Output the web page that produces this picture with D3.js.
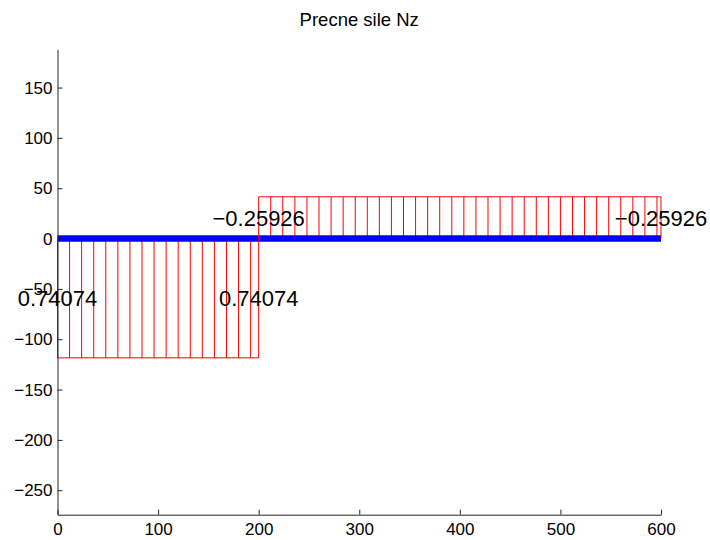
<!DOCTYPE html>
<html>
<head>
<meta charset="utf-8">
<script src="https://cdn.jsdelivr.net/npm/d3@7"></script>
<style>
  body { margin: 0; background: #fff; }
  svg { font-family: "Liberation Sans", Arial, Helvetica, sans-serif; }
</style>
</head>
<body>
<div id="chart"></div>
<script>
// beam segments and shear force values (Nz)
var segStart = [0, 200];
var segEnd = [200, 600];
var nzValues = [0.74074, -0.25926];     // printed next to the diagram
var drawnHeights = [-118.5, 41.5];      // ordinate of the diagram as plotted
var beamX = [0, 600];
var xTicks = [0, 100, 200, 300, 400, 500, 600];
var yTicks = [-250, -200, -150, -100, -50, 0, 50, 100, 150];
var hatchStep = 12;

var W = 710, H = 540;

var svg = d3.select("#chart")
  .append("svg")
    .attr("width", W)
    .attr("height", H);

svg.append("rect").attr("width", W).attr("height", H).attr("fill", "#fff");

var x = d3.scaleLinear().domain([0, 600]).range([57.5, 661]);
var y = d3.scaleLinear().domain([-274.3, 188]).range([514.7, 49.3]);

// hatch lines inside each segment
segStart.forEach(function(s, i) {
  var e = segEnd[i];
  var h = drawnHeights[i];
  var xs = d3.range(s + hatchStep, e, hatchStep);
  svg.append("g")
    .selectAll("line")
    .data(xs)
    .enter().append("line")
      .attr("x1", function(d) { return x(d); })
      .attr("x2", function(d) { return x(d); })
      .attr("y1", y(0))
      .attr("y2", y(h))
      .attr("stroke", "#ff0000")
      .attr("stroke-width", 1);
});

// the beam
svg.append("line")
  .attr("x1", x(beamX[0]))
  .attr("x2", x(beamX[1]))
  .attr("y1", y(0))
  .attr("y2", y(0))
  .attr("stroke", "#0000ff")
  .attr("stroke-width", 6.5);

// outline of each segment
segStart.forEach(function(s, i) {
  var e = segEnd[i];
  var h = drawnHeights[i];
  svg.append("path")
    .attr("d", d3.line()([[x(s), y(0)], [x(s), y(h)], [x(e), y(h)], [x(e), y(0)]]))
    .attr("fill", "none")
    .attr("stroke", "#ff0000")
    .attr("stroke-width", 1);
});

// axes
var xAxis = svg.append("g")
  .attr("transform", "translate(0," + y.range()[0] + ")")
  .call(d3.axisBottom(x).tickValues(xTicks).tickSize(-5).tickSizeOuter(0).tickPadding(8));

var yAxis = svg.append("g")
  .attr("transform", "translate(" + x.range()[0] + ",0)")
  .call(d3.axisLeft(y).tickValues(yTicks).tickSize(-5).tickSizeOuter(0).tickPadding(5));

[xAxis, yAxis].forEach(function(a) {
  a.select(".domain").attr("stroke", "#262626");
  a.selectAll(".tick line").attr("stroke", "#262626");
  a.selectAll(".tick text")
    .attr("fill", "#000")
    .style("font-size", "17px")
    .style("font-family", "'Liberation Sans', Arial, sans-serif");
});

// value labels at both ends of each segment
var fmt = d3.format(".5g");
var labels = [];
segStart.forEach(function(s, i) {
  labels.push({x: s, h: drawnHeights[i], v: nzValues[i]});
  labels.push({x: segEnd[i], h: drawnHeights[i], v: nzValues[i]});
});

svg.append("g")
  .selectAll("text")
  .data(labels)
  .enter().append("text")
    .attr("x", function(d) { return x(d.x); })
    .attr("y", function(d) { return y(d.h / 2); })
    .attr("dy", "0.36em")
    .attr("text-anchor", "middle")
    .style("font-size", "22px")
    .attr("fill", "#000")
    .text(function(d) { return fmt(d.v); });

// title
svg.append("text")
  .attr("x", (x.range()[0] + x.range()[1]) / 2)
  .attr("y", 26)
  .attr("text-anchor", "middle")
  .style("font-size", "18.5px")
  .attr("fill", "#000")
  .text("Precne sile Nz");
</script>
</body>
</html>
